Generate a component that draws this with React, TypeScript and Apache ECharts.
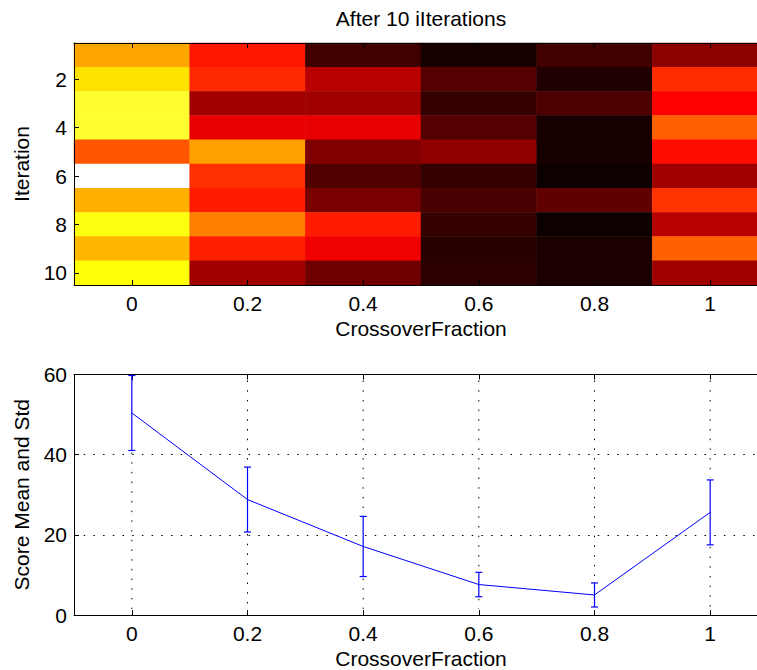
import React, { useEffect, useRef } from "react";
import * as echarts from "echarts";

const crossoverFractions = ["0", "0.2", "0.4", "0.6", "0.8", "1"];
const iterations = ["1", "2", "3", "4", "5", "6", "7", "8", "9", "10"];
// rows: iteration 1..10, columns: crossover fraction 0..1
const scoreByIteration = [
  [42.9, 28.8, 7.4, 3.4, 7.4, 15.0],
  [49.1, 30.5, 19.4, 9.5, 4.3, 30.9],
  [55.0, 17.0, 17.0, 6.2, 8.7, 26.5],
  [55.0, 24.2, 24.2, 9.5, 3.4, 36.0],
  [34.9, 42.4, 13.8, 15.4, 3.4, 27.7],
  [68.8, 31.2, 9.1, 6.2, 2.3, 17.0],
  [44.0, 29.2, 13.0, 8.2, 10.6, 31.5],
  [52.9, 39.2, 29.2, 6.2, 2.3, 19.4],
  [44.7, 29.6, 25.0, 5.1, 3.8, 36.0],
  [52.4, 17.0, 12.2, 5.5, 3.8, 17.0],
];
const scoreMeans = [50.4, 28.8, 17.1, 7.6, 5.0, 25.6];
const scoreStds = [9.35, 8.1, 7.5, 3.05, 3.0, 8.1];
const hotColors = ["#000000", "#550000", "#aa0000", "#ff0000", "#ff5500", "#ffaa00", "#ffff00", "#ffff80", "#ffffff"];

const FONT = "Liberation Sans, Arial, Helvetica, sans-serif";
const FS = 21;

export default function App() {
  const ref = useRef<HTMLDivElement>(null);
  useEffect(() => {
    if (!ref.current) return;
    const chart = echarts.init(ref.current, null, { renderer: "svg" });

    const heatData: number[][] = [];
    scoreByIteration.forEach((row, r) => row.forEach((v, c) => heatData.push([c, r, v])));
    const errData = scoreMeans.map((m, i) => [i, m - scoreStds[i], m + scoreStds[i]]);

    const axisLine = { show: true, lineStyle: { color: "#000", width: 1 } };
    const tick = { show: true, inside: true, length: 5, alignWithLabel: true, lineStyle: { color: "#000", width: 1 } };
    const label = { color: "#000", fontSize: FS, fontFamily: FONT, margin: 8 };
    const nameStyle = { color: "#000", fontSize: FS, fontFamily: FONT };
    const evenOnly = (index: number) => index % 2 === 1;

    const xBase = (gridIndex: number, position: string, withLabels: boolean) => ({
      type: "category",
      gridIndex,
      position,
      data: crossoverFractions,
      z: 10,
      axisLine,
      axisTick: tick,
      axisLabel: withLabels ? label : { show: false },
      splitLine: { show: false },
      name: withLabels ? "CrossoverFraction" : "",
      nameLocation: "middle",
      nameGap: 33,
      nameTextStyle: nameStyle,
    });

    chart.setOption({
      animation: false,
      textStyle: { fontFamily: FONT },
      graphic: [
        {
          type: "text",
          x: 421,
          y: 18,
          style: {
            text: "After 10 iIterations",
            textAlign: "center",
            textVerticalAlign: "middle",
            fontSize: FS,
            fontFamily: FONT,
            fill: "#000",
          },
        },
      ],
      grid: [
        { left: 74, top: 43, width: 694, height: 242 },
        { left: 74, top: 374.5, width: 694, height: 240.5 },
      ],
      xAxis: [
        xBase(0, "bottom", true),
        xBase(0, "top", false),
        xBase(1, "bottom", true),
        xBase(1, "top", false),
      ],
      yAxis: [
        {
          type: "category",
          gridIndex: 0,
          data: iterations,
          inverse: true,
          z: 10,
          axisLine,
          axisTick: { ...tick, interval: evenOnly },
          axisLabel: { ...label, margin: 7, interval: evenOnly },
          splitLine: { show: false },
          name: "Iteration",
          nameLocation: "middle",
          nameGap: 42,
          nameTextStyle: nameStyle,
        },
        {
          type: "value",
          gridIndex: 1,
          min: 0,
          max: 60,
          interval: 20,
          z: 10,
          axisLine,
          axisTick: { show: true, inside: true, length: 5, lineStyle: { color: "#000" } },
          axisLabel: { ...label, margin: 7 },
          splitLine: { show: true, lineStyle: { color: "#000", width: 1, type: [1.5, 8.2] } },
          name: "Score Mean and Std",
          nameLocation: "middle",
          nameGap: 42,
          nameTextStyle: nameStyle,
        },
      ],
      visualMap: {
        show: false,
        type: "continuous",
        seriesIndex: 0,
        dimension: 2,
        min: 1.07,
        max: 68.8,
        inRange: { color: hotColors },
      },
      series: [
        {
          type: "heatmap",
          xAxisIndex: 0,
          yAxisIndex: 0,
          data: heatData,
          itemStyle: { borderWidth: 0 },
          emphasis: { disabled: true },
        },
        {
          type: "custom",
          xAxisIndex: 2,
          yAxisIndex: 1,
          data: errData,
          encode: { x: 0, y: [1, 2] },
          z: 11,
          clip: false,
          renderItem: (params: any, api: any) => {
            const x = api.value(0);
            const pLo = api.coord([x, api.value(1)]);
            const pHi = api.coord([x, api.value(2)]);
            const cs = params.coordSys;
            const px = pLo[0];
            const w = 3.5;
            const style = { stroke: "#0000ff", lineWidth: 1.2, fill: "none" };
            const dotted = { stroke: "#000", lineWidth: 1, lineDash: [1.5, 8.2], fill: "none" };
            return {
              type: "group",
              children: [
                { type: "line", shape: { x1: px, y1: cs.y + 6, x2: px, y2: pHi[1] - 2 }, style: dotted },
                { type: "line", shape: { x1: px, y1: pLo[1] + 2, x2: px, y2: cs.y + cs.height - 6 }, style: dotted },
                { type: "line", shape: { x1: px, y1: pLo[1], x2: px, y2: pHi[1] }, style },
                { type: "line", shape: { x1: px - w, y1: pHi[1], x2: px + w, y2: pHi[1] }, style },
                { type: "line", shape: { x1: px - w, y1: pLo[1], x2: px + w, y2: pLo[1] }, style },
              ],
            };
          },
        },
        {
          type: "line",
          xAxisIndex: 2,
          yAxisIndex: 1,
          data: scoreMeans,
          symbol: "none",
          lineStyle: { color: "#0000ff", width: 1 },
          itemStyle: { color: "#0000ff" },
          z: 12,
        },
      ],
    });
    return () => chart.dispose();
  }, []);
  return (
    <div style={{ position: "absolute", left: 0, top: 0, width: 757, height: 670, overflow: "hidden", background: "#fff" }}>
      <div ref={ref} style={{ position: "absolute", left: 0, top: 0, width: 780, height: 670 }} />
    </div>
  );
}
